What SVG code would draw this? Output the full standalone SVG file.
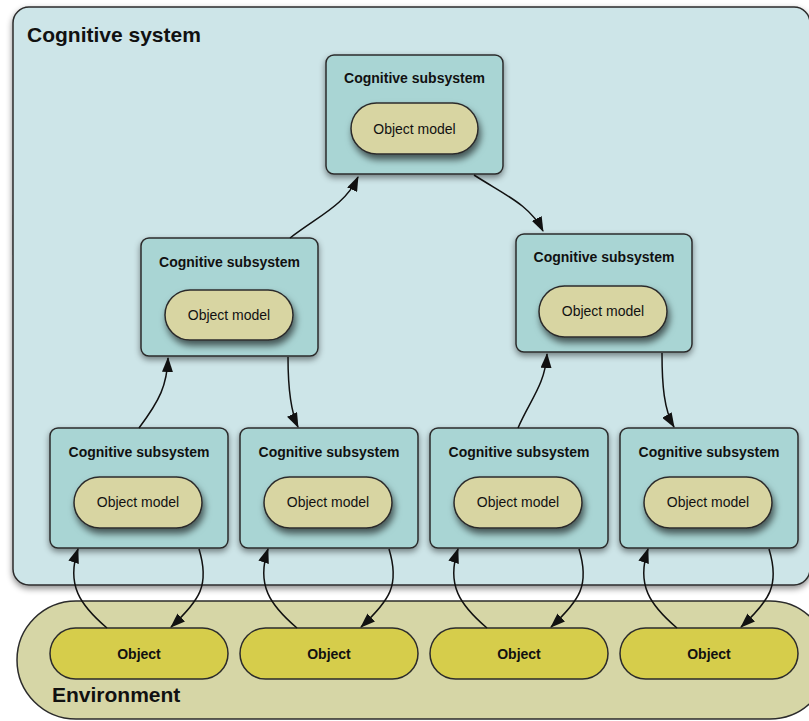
<svg xmlns="http://www.w3.org/2000/svg" width="809" height="721" viewBox="0 0 809 721">
<defs>
<style>
.sys{fill:#cde5e8;stroke:#2b2b2b;stroke-width:1.5}
.env{fill:#d6d6a6;stroke:#2b2b2b;stroke-width:1.5}
.sub{fill:#a9d5d4;stroke:#2b2b2b;stroke-width:1.5}
.om{fill:#d8d5a2;stroke:#2b2b2b;stroke-width:1.5}
.obj{fill:#d6cd4b;stroke:#2b2b2b;stroke-width:1.5}
.big{font-family:"Liberation Sans",Arial,sans-serif;font-weight:bold;font-size:21px;fill:#111}
.ttl{font-family:"Liberation Sans",Arial,sans-serif;font-weight:bold;font-size:14px;fill:#111;text-anchor:middle}
.omt{font-family:"Liberation Sans",Arial,sans-serif;font-size:14px;fill:#111;text-anchor:middle}
.objt{font-family:"Liberation Sans",Arial,sans-serif;font-weight:bold;font-size:14px;fill:#111;text-anchor:middle}
.c{fill:none;stroke:#111;stroke-width:1.5;marker-end:url(#arr)}
</style>
<filter id="sh" x="-10%" y="-10%" width="120%" height="130%">
<feDropShadow dx="0" dy="3" stdDeviation="3" flood-color="#000" flood-opacity="0.45"/>
</filter>
<filter id="sh2" x="-20%" y="-20%" width="140%" height="170%">
<feDropShadow dx="2" dy="5" stdDeviation="3.5" flood-color="#000" flood-opacity="0.6"/>
</filter>
<marker id="arr" markerUnits="userSpaceOnUse" markerWidth="15" markerHeight="11" viewBox="0 0 15 11" refX="14" refY="5.5" orient="auto">
<path d="M0,0 L15,5.5 L0,11 Z" fill="#111"/>
</marker>
</defs>

<g id="cognitive-system">
<rect class="sys" x="13" y="7" width="797" height="578" rx="16" filter="url(#sh)"/>
<text class="big" x="27" y="42">Cognitive system</text>
</g>

<g id="environment">
<rect class="env" x="17" y="601" width="812" height="118" rx="59"/>
<text class="big" x="52" y="702">Environment</text>
</g>

<g id="sub-top">
<rect class="sub" x="326" y="55" width="177" height="119" rx="8" filter="url(#sh)"/>
<text class="ttl" x="414.5" y="83">Cognitive subsystem</text>
<rect class="om" x="351" y="103" width="127" height="51" rx="25.5" filter="url(#sh2)"/>
<text class="omt" x="414.5" y="134">Object model</text>
</g>

<g id="sub-mid-left">
<rect class="sub" x="141" y="238" width="177" height="118" rx="8" filter="url(#sh)"/>
<text class="ttl" x="229.5" y="267">Cognitive subsystem</text>
<rect class="om" x="165" y="290" width="128" height="50" rx="25" filter="url(#sh2)"/>
<text class="omt" x="229" y="320">Object model</text>
</g>

<g id="sub-mid-right">
<rect class="sub" x="516" y="234" width="176" height="118" rx="8" filter="url(#sh)"/>
<text class="ttl" x="604" y="262">Cognitive subsystem</text>
<rect class="om" x="539" y="286" width="128" height="51" rx="25.5" filter="url(#sh2)"/>
<text class="omt" x="603" y="316">Object model</text>
</g>

<g id="sub-bottom-1">
<rect class="sub" x="50" y="428" width="178" height="120" rx="8" filter="url(#sh)"/>
<text class="ttl" x="139" y="457">Cognitive subsystem</text>
<rect class="om" x="74" y="477" width="128" height="51" rx="25.5" filter="url(#sh2)"/>
<text class="omt" x="138" y="507">Object model</text>
</g>

<g id="sub-bottom-2">
<rect class="sub" x="240" y="428" width="178" height="120" rx="8" filter="url(#sh)"/>
<text class="ttl" x="329" y="457">Cognitive subsystem</text>
<rect class="om" x="264" y="477" width="128" height="51" rx="25.5" filter="url(#sh2)"/>
<text class="omt" x="328" y="507">Object model</text>
</g>

<g id="sub-bottom-3">
<rect class="sub" x="430" y="428" width="178" height="120" rx="8" filter="url(#sh)"/>
<text class="ttl" x="519" y="457">Cognitive subsystem</text>
<rect class="om" x="454" y="477" width="128" height="51" rx="25.5" filter="url(#sh2)"/>
<text class="omt" x="518" y="507">Object model</text>
</g>

<g id="sub-bottom-4">
<rect class="sub" x="620" y="428" width="178" height="120" rx="8" filter="url(#sh)"/>
<text class="ttl" x="709" y="457">Cognitive subsystem</text>
<rect class="om" x="644" y="477" width="128" height="51" rx="25.5" filter="url(#sh2)"/>
<text class="omt" x="708" y="507">Object model</text>
</g>

<g id="object-1">
<rect class="obj" x="50" y="628" width="178" height="51" rx="25.5"/>
<text class="objt" x="139" y="659">Object</text>
</g>
<g id="object-2">
<rect class="obj" x="240" y="628" width="178" height="51" rx="25.5"/>
<text class="objt" x="329" y="659">Object</text>
</g>
<g id="object-3">
<rect class="obj" x="430" y="628" width="178" height="51" rx="25.5"/>
<text class="objt" x="519" y="659">Object</text>
</g>
<g id="object-4">
<rect class="obj" x="620" y="628" width="178" height="51" rx="25.5"/>
<text class="objt" x="709" y="659">Object</text>
</g>

<g id="connectors">
<path class="c" d="M290,238 C320,215 345,205 358,177"/>
<path class="c" d="M474,175 C505,195 530,205 543,231"/>
<path class="c" d="M139,428 C160,400 167,385 168,358"/>
<path class="c" d="M288,357 C288,385 290,410 298,427"/>
<path class="c" d="M518,428 C530,400 545,385 547,354"/>
<path class="c" d="M662,353 C662,385 664,410 674,427"/>
<path class="c" d="M107,628 C80,605 66,585 78,549"/>
<path class="c" d="M199,549 C210,585 200,600 171,627"/>
<path class="c" d="M297,628 C270,605 256,585 268,549"/>
<path class="c" d="M389,549 C400,585 390,600 361,627"/>
<path class="c" d="M487,628 C460,605 446,585 458,549"/>
<path class="c" d="M579,549 C590,585 580,600 551,627"/>
<path class="c" d="M677,628 C650,605 636,585 648,549"/>
<path class="c" d="M769,549 C780,585 770,600 741,627"/>
</g>
</svg>
